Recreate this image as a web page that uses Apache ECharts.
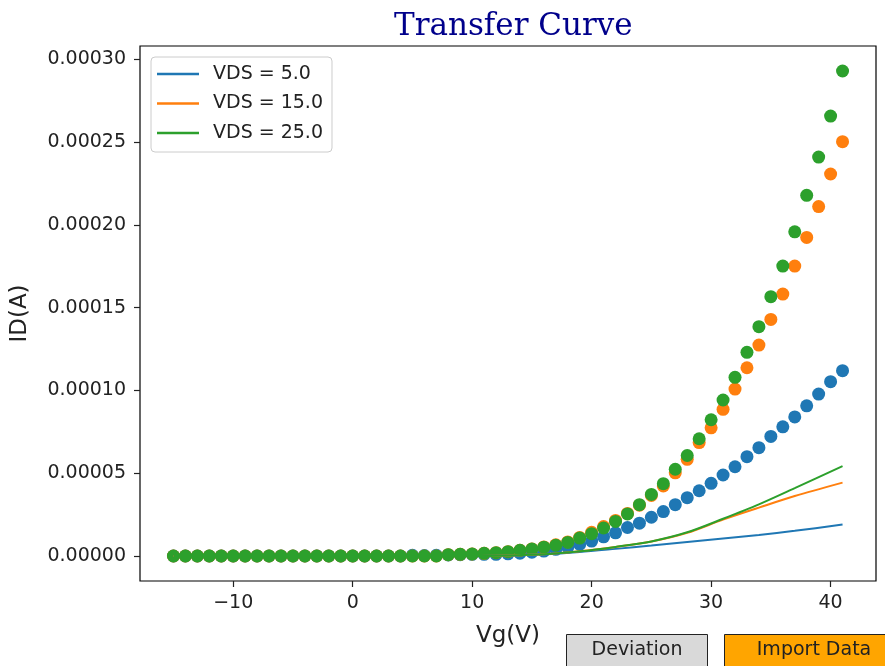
<!DOCTYPE html>
<html>
<head>
<meta charset="utf-8">
<script src="https://cdn.jsdelivr.net/npm/echarts@6/dist/echarts.min.js"></script>
<style>html,body{margin:0;padding:0;background:#fff}#c{width:885px;height:666px}</style>
</head>
<body>
<div id="c"></div>
<script>
// ---- data ----
const vg = [-15,-14,-13,-12,-11,-10,-9,-8,-7,-6,-5,-4,-3,-2,-1,0,1,2,3,4,5,6,7,8,9,10,11,12,13,14,15,16,17,18,19,20,21,22,23,24,25,26,27,28,29,30,31,32,33,34,35,36,37,38,39,40,41];
const id5 = [0,0,0,0,0,0,0,0,0,0,0,0,0,0,0,0,0,0,0,0,4e-7,3e-7,4e-7,6e-7,8e-7,1.0e-6,1.0e-6,1.0e-6,1.3e-6,1.7e-6,2.3e-6,3.0e-6,4.0e-6,5.3e-6,7.0e-6,9.0e-6,1.16e-5,1.4e-5,1.72e-5,1.98e-5,2.34e-5,2.68e-5,3.1e-5,3.52e-5,3.94e-5,4.39e-5,4.89e-5,5.39e-5,6.0e-5,6.54e-5,7.22e-5,7.8e-5,8.4e-5,9.07e-5,9.78e-5,1.053e-4,1.119e-4];
const id15 = [0,0,0,0,0,0,0,0,0,0,0,0,0,0,0,0,0,0,0,0,0,0,0,8e-7,1.0e-6,1.2e-6,1.6e-6,2.0e-6,2.6e-6,3.4e-6,4.3e-6,5.5e-6,6.8e-6,8.5e-6,1.12e-5,1.43e-5,1.78e-5,2.15e-5,2.57e-5,3.07e-5,3.66e-5,4.23e-5,5.02e-5,5.84e-5,6.85e-5,7.74e-5,8.86e-5,1.008e-4,1.137e-4,1.274e-4,1.429e-4,1.582e-4,1.751e-4,1.924e-4,2.11e-4,2.307e-4,2.502e-4];
const id25 = [0,0,0,0,0,0,0,0,0,0,0,0,0,0,0,0,0,0,0,0,0,0,0,8e-7,1.0e-6,1.2e-6,1.6e-6,2.0e-6,2.6e-6,3.4e-6,4.2e-6,5.3e-6,6.5e-6,8.2e-6,1.08e-5,1.35e-5,1.69e-5,2.09e-5,2.54e-5,3.1e-5,3.72e-5,4.37e-5,5.24e-5,6.07e-5,7.08e-5,8.23e-5,9.42e-5,1.079e-4,1.23e-4,1.385e-4,1.566e-4,1.751e-4,1.958e-4,2.178e-4,2.409e-4,2.657e-4,2.929e-4];
// fitted curves
const fitX = [-15,-10,-5,0,5,10,13,16,19,22,25,28,31,34,37,41];
const fit5 = [0,0,0,0,0,0,3e-7,1.0e-6,2.4e-6,4.3e-6,6.3e-6,8.4e-6,1.05e-5,1.27e-5,1.52e-5,1.9e-5];
const fit15 = [0,0,0,0,0,0,3e-7,1.0e-6,2.8e-6,5.4e-6,8.7e-6,1.4e-5,2.2e-5,2.92e-5,3.62e-5,4.43e-5];
const fit25 = [0,0,0,0,0,0,3e-7,1.0e-6,2.8e-6,5.5e-6,8.8e-6,1.43e-5,2.25e-5,3.12e-5,4.1e-5,5.43e-5];
const seriesNames = ['VDS = 5.0','VDS = 15.0','VDS = 25.0'];
const xTicks = [-10,0,10,20,30,40];
const yTicks = [0,0.00005,0.0001,0.00015,0.0002,0.00025,0.0003];
const title = 'Transfer Curve';
const xName = 'Vg(V)';
const yName = 'ID(A)';
const buttons = ['Deviation','Import Data'];

// ---- chart ----
const colors = ['#1f77b4','#ff7f0e','#2ca02c'];
const pair = (xs, ys) => xs.map((x,i)=>[x, ys[i]]);
const meas = [id5,id15,id25];
const fits = [fit5,fit15,fit25];
const font = 'DejaVu Sans';
const chart = echarts.init(document.getElementById('c'), null, {renderer:'canvas'});
const series = [];
meas.forEach((d,i)=>series.push({
  name: seriesNames[i]+' data', type:'scatter', data: pair(vg,d), symbolSize: 13,
  itemStyle:{color:colors[i], opacity:1}, z:2, silent:true
}));
fits.forEach((d,i)=>series.push({
  name: seriesNames[i], type:'line', data: pair(fitX,d), smooth:0.3, showSymbol:false, symbol:'none',
  lineStyle:{color:colors[i], width:2}, itemStyle:{color:colors[i]}, z:3, silent:true
}));
chart.setOption({
  animation:false,
  backgroundColor:'#fff',
  title:{text:title, left:389, top:6, textStyle:{fontFamily:'DejaVu Serif', fontSize:31, fontWeight:'normal', color:'#00008B'}},
  grid:{left:140, right:9, top:46, bottom:85, show:true, borderColor:'#000', borderWidth:1.2, backgroundColor:'transparent'},
  legend:{
    data: seriesNames, orient:'vertical', left:151, top:57, icon:'rect', itemWidth:42, itemHeight:2.5,
    itemGap:7.5, selectedMode:false, padding:[6,9,8,6],
    backgroundColor:'rgba(255,255,255,0.8)', borderColor:'#cccccc', borderWidth:1, borderRadius:4,
    textStyle:{fontFamily:font, fontSize:19, color:'#222', lineHeight:22, padding:[0,0,0,9]}
  },
  xAxis:{
    type:'value', min:-17.8, max:43.8, name:xName, nameLocation:'middle', nameGap:44,
    nameTextStyle:{fontFamily:font, fontSize:23, color:'#222'},
    axisLine:{show:false, onZero:false}, splitLine:{show:false},
    axisTick:{show:true, length:6, inside:false, customValues:xTicks, lineStyle:{color:'#222', width:1.2}},
    axisLabel:{customValues:xTicks, fontFamily:font, fontSize:19, color:'#222', margin:13,
      formatter:v=> v<0 ? '\u2212'+Math.abs(v) : String(v)}
  },
  yAxis:{
    type:'value', min:-0.0000151, max:0.000308, name:yName, nameLocation:'middle', nameGap:108,
    nameTextStyle:{fontFamily:font, fontSize:23, color:'#222'},
    axisLine:{show:false, onZero:false}, splitLine:{show:false},
    axisTick:{show:true, length:6, inside:false, customValues:yTicks, lineStyle:{color:'#222', width:1.2}},
    axisLabel:{customValues:yTicks, fontFamily:font, fontSize:19, color:'#222', margin:14,
      formatter:v=> Number(v).toFixed(5)}
  },
  graphic:[
    {type:'rect', shape:{x:566.5, y:634.5, width:141, height:40}, style:{fill:'#d9d9d9', stroke:'#222', lineWidth:1}},
    {type:'text', x:637, y:650, style:{text:buttons[0], fontFamily:font, fontSize:19, fill:'#222', align:'center', verticalAlign:'middle'}},
    {type:'rect', shape:{x:724.5, y:634.5, width:180, height:40}, style:{fill:'#ffa500', stroke:'#222', lineWidth:1}},
    {type:'text', x:814, y:650, style:{text:buttons[1], fontFamily:font, fontSize:19, fill:'#222', align:'center', verticalAlign:'middle'}}
  ],
  series: series
});
</script>
</body>
</html>
